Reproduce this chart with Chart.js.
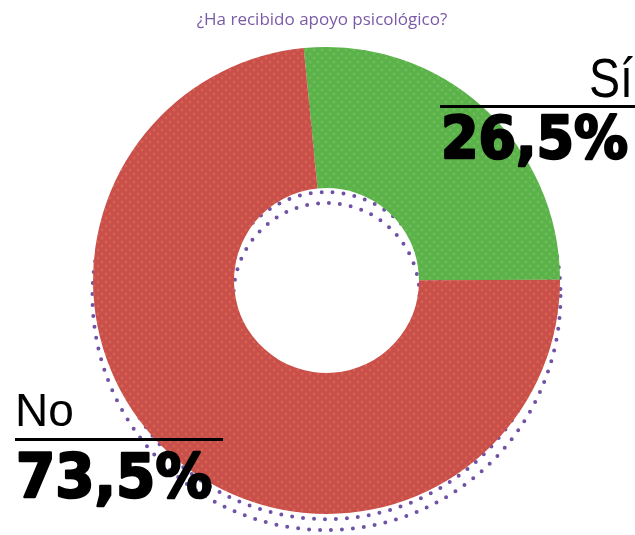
<!DOCTYPE html>
<html>
<head>
<meta charset="utf-8">
<script src="https://cdn.jsdelivr.net/npm/chart.js@4"></script>
<style>
  body { margin: 0; background: #fff; }
  #myChart { display: block; }
</style>
</head>
<body>
<canvas id="myChart" width="635" height="535"></canvas>
<script>
const title = '¿Ha recibido apoyo psicológico?';
const labels = ['Sí', 'No'];
const values = [26.5, 73.5];
const valueLabels = ['26,5%', '73,5%'];

// halftone look for the slices
function makePattern(base, dot){
    const c = document.createElement('canvas');
    c.width = 8; c.height = 8;
    const g = c.getContext('2d');
    g.fillStyle = base;
    g.fillRect(0, 0, 8, 8);
    g.fillStyle = dot;
    g.beginPath(); g.arc(2, 2, 1.4, 0, Math.PI * 2); g.fill();
    g.beginPath(); g.arc(6, 6, 1.4, 0, Math.PI * 2); g.fill();
    return g.createPattern(c, 'repeat');
}

const colors = [
    makePattern('#5bb24a', '#6cbd55'),
    makePattern('#c94f4b', '#d5634f')
];

// dotted purple "shadow" behind the ring
const dottedShadow = {
    id: 'dottedShadow',
    beforeDatasetsDraw(chart){
        const arc = chart.getDatasetMeta(0).data[0];
        const ctx = chart.ctx;
        const cx = arc.x, cy = arc.y + 15.5;
        ctx.save();
        ctx.strokeStyle = '#6f52a6';
        ctx.lineWidth = 4;
        ctx.lineCap = 'round';
        ctx.setLineDash([0, 11]);
        for(let i = 0; i <= 13; i++){
            const r = 93 + i * 10.85;
            ctx.beginPath();
            ctx.arc(cx, cy, r, 0, Math.PI * 2);
            ctx.stroke();
        }
        ctx.restore();
    }
};

const textLabels = {
    id: 'textLabels',
    afterDraw(chart){
        const ctx = chart.ctx;
        ctx.save();
        // title
        ctx.fillStyle = '#7a5aa8';
        ctx.font = '17px "Open Sans"';
        ctx.textAlign = 'center';
        ctx.textBaseline = 'alphabetic';
        ctx.fillText(title, 322, 25);

        ctx.fillStyle = '#000';
        ctx.strokeStyle = '#000';
        // Sí
        ctx.font = '56px "Liberation Sans"';
        ctx.textAlign = 'right';
        ctx.fillText(labels[0], 633, 97, 44);
        ctx.fillRect(440, 105, 195, 3);
        ctx.font = 'bold 58px "DejaVu Sans"';
        ctx.textAlign = 'left';
        ctx.lineWidth = 2.5;
        ctx.lineJoin = 'round';
        ctx.fillText(valueLabels[0], 441, 158, 187);
        ctx.strokeText(valueLabels[0], 441, 158, 187);
        // No
        ctx.font = '46px "Liberation Sans"';
        ctx.fillText(labels[1], 15, 426);
        ctx.fillRect(15, 438, 208, 3);
        ctx.font = 'bold 60px "DejaVu Sans"';
        ctx.fillText(valueLabels[1], 16, 497, 196);
        ctx.strokeText(valueLabels[1], 16, 497, 196);
        ctx.restore();
    }
};

const ctx = document.querySelector('#myChart').getContext('2d');
const myChart = new Chart(ctx, {
    type: 'doughnut',
    data: {
        labels: labels,
        datasets: [{
            data: values,
            backgroundColor: colors,
            borderWidth: 0
        }]
    },
    options: {
        responsive: false,
        animation: false,
        cutout: '39.6%',
        rotation: -5.6,
        layout: {
            padding: { top: 47, bottom: 21, left: 93, right: 75 }
        },
        plugins: {
            legend: { display: false },
            tooltip: { enabled: false }
        }
    },
    plugins: [dottedShadow, textLabels]
});
</script>
</body>
</html>
